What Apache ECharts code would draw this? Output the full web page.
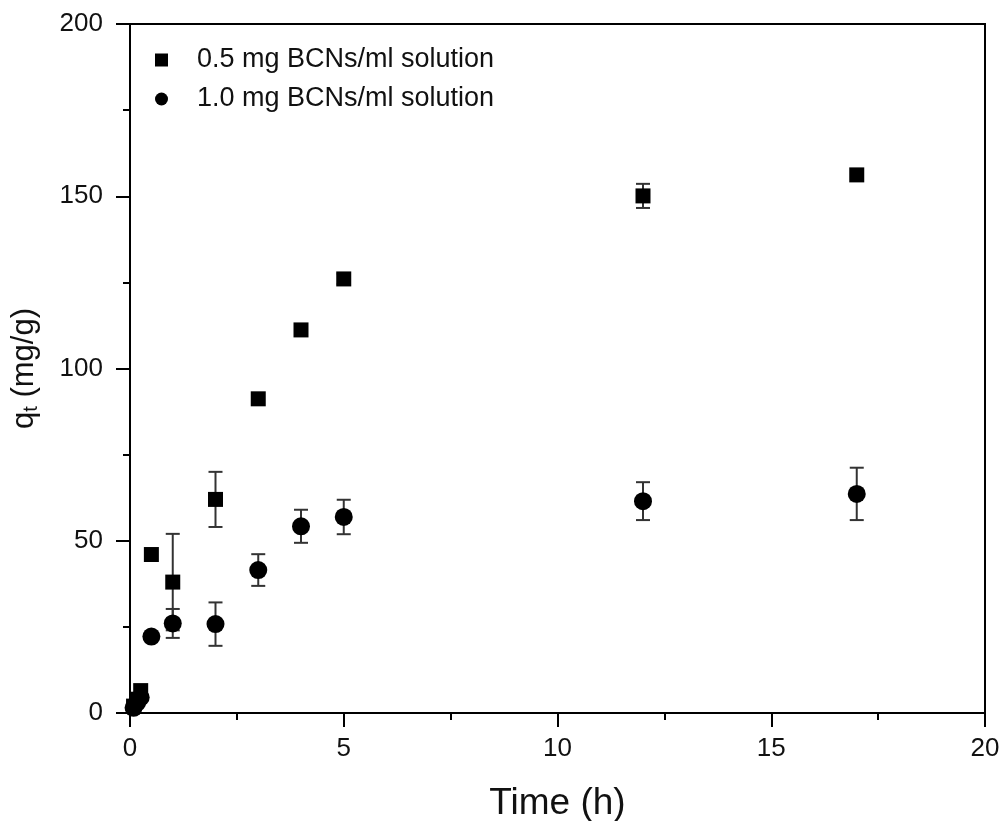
<!DOCTYPE html>
<html>
<head>
<meta charset="utf-8">
<script src="https://cdn.jsdelivr.net/npm/echarts@6/dist/echarts.min.js"></script>
<style>
  html, body { margin: 0; padding: 0; background: #fff; }
  #chart { width: 1003px; height: 821px; }
</style>
</head>
<body>
<div id="chart"></div>
<script>
// Adsorption kinetics: uptake q_t versus contact time for two BCN dosages
var timeLow = [0.083, 0.167, 0.25, 0.5, 1, 2, 3, 4, 5, 12, 17];
var qLow    = [2, 4, 6.5, 46, 38, 62, 91.2, 111.2, 126, 150.1, 156.2];
var errLow  = [0, 0, 0, 0, 14, 8, 0, 0, 1.5, 3.5, 0];

var timeHigh = [0.083, 0.167, 0.25, 0.5, 1, 2, 3, 4, 5, 12, 17];
var qHigh    = [1.5, 3, 4.5, 22.2, 26, 25.8, 41.5, 54.2, 56.9, 61.5, 63.6];
var errHigh  = [0, 0, 0, 0, 4.2, 6.3, 4.6, 4.8, 5, 5.5, 7.6];

var xTicks = [0, 5, 10, 15, 20];
var yTicks = [0, 50, 100, 150, 200];

var seriesNames = ['0.5 mg BCNs/ml solution', '1.0 mg BCNs/ml solution'];

function pairs(xs, ys, es) {
  return xs.map(function (x, i) { return [x, ys[i], es[i]]; });
}

function errorBars(data) {
  return {
    type: 'custom',
    silent: true,
    z: 1,
    data: data.filter(function (d) { return d[2] > 0; }),
    renderItem: function (params, api) {
      var x = api.value(0), y = api.value(1), e = api.value(2);
      var top = api.coord([x, y + e]);
      var bot = api.coord([x, y - e]);
      var half = 7;
      var style = { stroke: '#333', lineWidth: 2 };
      return {
        type: 'group',
        children: [
          { type: 'line', shape: { x1: top[0], y1: top[1], x2: bot[0], y2: bot[1] }, style: style },
          { type: 'line', shape: { x1: top[0] - half, y1: top[1], x2: top[0] + half, y2: top[1] }, style: style },
          { type: 'line', shape: { x1: bot[0] - half, y1: bot[1], x2: bot[0] + half, y2: bot[1] }, style: style }
        ]
      };
    }
  };
}

var lowData = pairs(timeLow, qLow, errLow);
var highData = pairs(timeHigh, qHigh, errHigh);

var fontFamily = 'Liberation Sans, Arial, sans-serif';
var axisStyle = { color: '#000', width: 2 };

var chart = echarts.init(document.getElementById('chart'), null, { renderer: 'canvas' });
chart.setOption({
  backgroundColor: '#fff',
  animation: false,
  textStyle: { fontFamily: fontFamily },
  grid: {
    left: 130, right: 18, top: 24, bottom: 108,
    containLabel: false, outerBoundsMode: 'none',
    show: true, borderColor: '#000', borderWidth: 2, backgroundColor: 'transparent'
  },
  legend: {
    left: 155, top: 46, orient: 'vertical', itemGap: 11, padding: 0,
    itemWidth: 13, itemHeight: 13,
    textStyle: { fontSize: 27, lineHeight: 28, color: '#111', fontFamily: fontFamily, padding: [0, 0, 0, 24] },
    data: [
      { name: seriesNames[0], icon: 'rect', itemStyle: { color: '#000', opacity: 1 } },
      { name: seriesNames[1], icon: 'circle', itemStyle: { color: '#000', opacity: 1 } }
    ]
  },
  xAxis: {
    type: 'value', min: 0, max: 20, interval: 5,
    name: 'Time (h)', nameLocation: 'middle', nameGap: 72,
    nameTextStyle: { fontSize: 37, color: '#111' },
    axisLine: { show: true, lineStyle: axisStyle },
    axisTick: { show: true, inside: false, length: 14, lineStyle: axisStyle },
    minorTick: { show: true, splitNumber: 2, length: 7, lineStyle: axisStyle },
    axisLabel: {
      fontSize: 26, color: '#111', margin: 23,
      formatter: function (v) { return xTicks.indexOf(v) >= 0 ? String(v) : ''; }
    },
    splitLine: { show: false }
  },
  yAxis: {
    type: 'value', min: 0, max: 200, interval: 50,
    name: '{q|q}{t|t}{q| (mg/g)}', nameLocation: 'middle', nameGap: 89, nameRotate: 90,
    nameTextStyle: {
      rich: {
        q: { fontSize: 31, color: '#111', fontFamily: fontFamily },
        t: { fontSize: 20, color: '#111', fontFamily: fontFamily, padding: [14, 0, 0, 0] }
      }
    },
    axisLine: { show: true, lineStyle: axisStyle },
    axisTick: { show: true, inside: false, length: 14, lineStyle: axisStyle },
    minorTick: { show: true, splitNumber: 2, length: 7, lineStyle: axisStyle },
    axisLabel: {
      fontSize: 26, color: '#111', margin: 27,
      formatter: function (v) { return yTicks.indexOf(v) >= 0 ? String(v) : ''; }
    },
    splitLine: { show: false }
  },
  series: [
    errorBars(lowData),
    errorBars(highData),
    {
      name: seriesNames[0], type: 'scatter', symbol: 'rect', symbolSize: 15, z: 3,
      itemStyle: { color: '#000', opacity: 1 }, data: lowData
    },
    {
      name: seriesNames[1], type: 'scatter', symbol: 'circle', symbolSize: 18, z: 3,
      itemStyle: { color: '#000', opacity: 1 }, data: highData
    }
  ]
});
</script>
</body>
</html>
